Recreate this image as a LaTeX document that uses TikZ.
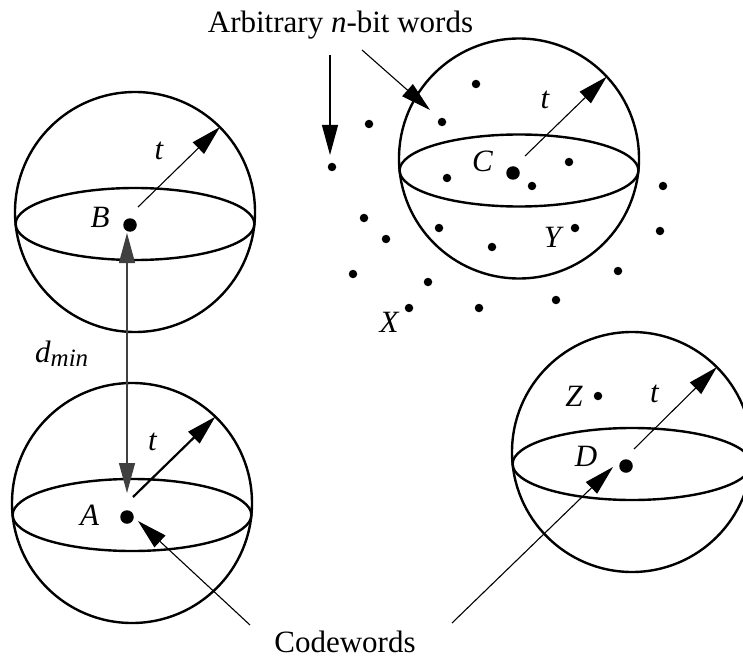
\documentclass[tikz,border=0pt]{standalone}
\usepackage{fontspec}
\setmainfont{Liberation Serif}
\usetikzlibrary{arrows.meta}
\begin{document}
\fontsize{31}{36}\selectfont
\begin{tikzpicture}[x=1pt,y=-1pt,
  sphere/.style={circle, draw, line width=2.4pt, minimum size=240pt, inner sep=0pt, outer sep=0pt},
  equator/.style={line width=2.4pt},
  dot/.style={circle, fill, inner sep=0pt, minimum size=8.5pt},
  cw/.style={circle, fill, inner sep=0pt, minimum size=13.5pt},
  lab/.style={font=\itshape, anchor=base, inner sep=0pt},
  txt/.style={anchor=base, inner sep=0pt},
  tip/.style={-{Triangle[length=30pt,width=16pt]}},
  thin/.style={line width=1.1pt},
  thick/.style={line width=2.2pt}]
\useasboundingbox (0,0) rectangle (743,660);
\clip (0,0) rectangle (743,660);

% spheres
\node[sphere] (sB) at (135,212) {};
\node[sphere] (sA) at (132,503) {};
\node[sphere] (sC) at (519,158.5) {};
\node[sphere] (sD) at (632,452) {};
\foreach \s in {sA,sB,sC,sD}
  \draw[equator] ([yshift=-12pt]\s.center) ellipse [x radius=119.4pt, y radius=36pt];

% codewords
\node[cw] (B) at (130,225) {};
\node[cw] (A) at (127,517) {};
\node[cw] (C) at (513,173) {};
\node[cw] (D) at (626,466) {};

% arbitrary words
\foreach \p [count=\i] in {(476,84),(369,124),(442,122),(332,167),(447,178),(532,186),(569,162),(663,186),(364,218),(386,239),(439,228),(492,247),(575,228),(660,231),(353,274),(428,282),(618,271),(556,300),(479,308),(409,308)}
  \node[dot] (w\i) at \p {};
\node[dot] (Zd) at (598,396) {};

% labels
\node[lab] (lB) at (100,227) {B};
\node[lab] (lA) at (89.5,525) {A};
\node[lab] (lC) at (482.5,172) {C};
\node[lab] (lD) at (586,466) {D};
\node[lab] (lY) at (552.5,247) {Y};
\node[lab] (lX) at (389,332) {X};
\node[lab] (lZ) at (574,406) {Z};
\node[lab] (tBl) at (159,160) {t};
\node[lab] (tAl) at (152.5,450) {t};
\node[lab] (tCl) at (545,109) {t};
\node[lab] (tDl) at (654.5,402) {t};
\node[txt, anchor=base west] (dmin) at (35,362) {\itshape d\raisebox{-4pt}{\fontsize{25}{28}\selectfont min}};
\node[txt] (title) at (340.5,33) {Arbitrary \textit{n}-bit words};
\node[txt] (codewords) at (345,652) {Codewords};

% radius arrows
\coordinate (rB) at (138,207);
\coordinate (rA) at (133,497);
\coordinate (rC) at (525,156);
\coordinate (rD) at (634,449);
\draw[thin, tip] (rB) -- (sB.45.7);
\draw[thick, tip] (rA) -- (sA.46.7);
\draw[thin, tip] (rC) -- (sC.43.5);
\draw[thin, tip] (rD) -- (sD.45);

% d_min arrow
\coordinate (dB) at (127,233);
\coordinate (dA) at (127,493);
\draw[line width=1.3pt, black!75, {Triangle[length=30pt,width=16pt]}-{Triangle[length=30pt,width=16pt]}] (dB) -- (dA);

% arbitrary word pointers
\coordinate (a1s) at (330,55);
\coordinate (a1e) at (330,155);
\coordinate (a2s) at (362,50);
\coordinate (a2e) at (430,110);
\draw[thin, tip] (a1s) -- (a1e);
\draw[thin, tip] (a2s) -- (a2e);

% codeword pointers
\coordinate (c1s) at (250,625);
\coordinate (c1e) at (138,521);
\coordinate (c2s) at (452,623);
\coordinate (c2e) at (613,467);
\draw[thin, tip] (c1s) -- (c1e);
\draw[thin, tip] (c2s) -- (c2e);
\end{tikzpicture}
\end{document}
